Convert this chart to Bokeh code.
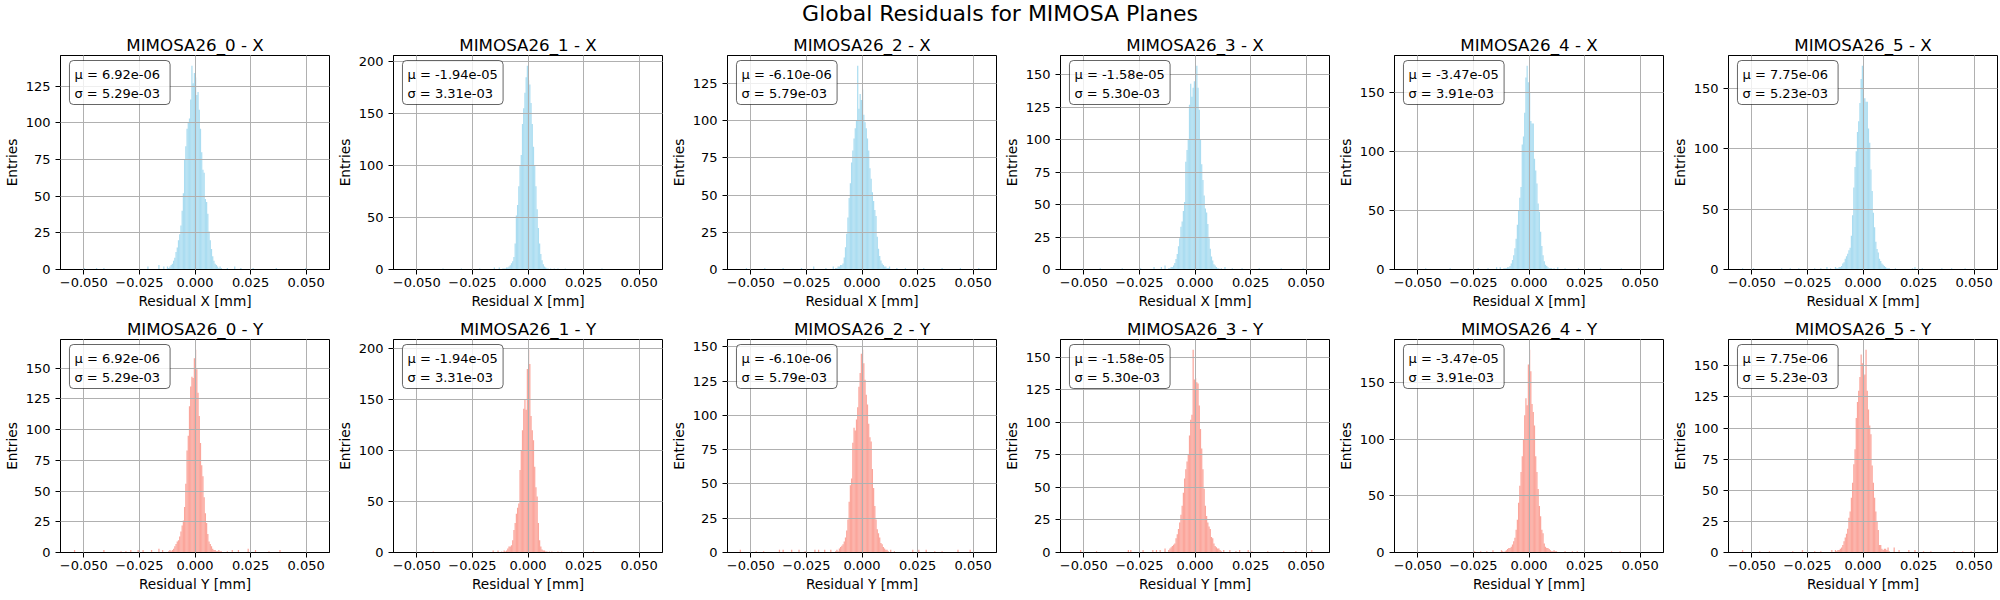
import numpy as np
from bokeh.plotting import figure
from bokeh.layouts import gridplot, column
from bokeh.models import (Div, Range1d, FixedTicker, SingleIntervalTicker,
                          CustomJSTickFormatter, Label, BoxAnnotation, ColumnDataSource)
from bokeh.embed import file_html
from bokeh.resources import INLINE

# ---------------- data ----------------
planes = ["MIMOSA26_0", "MIMOSA26_1", "MIMOSA26_2", "MIMOSA26_3", "MIMOSA26_4", "MIMOSA26_5"]
mu_vals = [6.92e-06, -1.94e-05, -6.10e-06, -1.58e-05, -3.47e-05, 7.75e-06]
sigma_vals = [5.29e-03, 3.31e-03, 5.79e-03, 5.30e-03, 3.91e-03, 5.23e-03]

HIST_LO, HIST_HI, N_BINS = -0.055, 0.055, 200
CORE_START = 78  # first bin index of the core count lists
x_ticks = [-0.05, -0.025, 0.0, 0.025, 0.05]

# core counts, bins 78..121 (X residuals)
core_x0 = [1,2,3,4,6,8,12,15,20,24, 30,40,52,75,84,96,100,103,116,139, 127,134,131,119,121,109,96,80,68,66, 48,46,38,26,20,14,9,6,4,3, 2,1,2,1]
core_x1 = [0,1,1,1,2,2,3,4,6,8, 12,25,52,62,80,100,110,140,155,170, 185,196,182,178,160,140,118,100,80,58, 40,25,15,9,5,3,2,1,1,0, 1,0,0,1]
core_x2 = [1,1,2,2,3,3,4,8,15,24, 35,48,58,72,80,88,95,100,137,108, 118,114,121,104,99,95,88,80,68,61, 52,46,40,36,22,14,9,6,4,3, 2,2,1,1]
core_x3 = [1,1,2,2,3,5,8,12,18,24, 33,37,45,52,83,92,100,127,143,133, 140,145,140,157,140,123,100,81,69,57, 47,44,35,24,16,10,7,4,3,2, 1,1,0,1]
core_x4 = [0,1,1,1,2,2,3,5,8,12, 18,26,38,50,61,70,106,113,133,163, 173,159,150,126,124,124,94,84,73,56, 49,32,20,12,7,4,3,2,1,1, 1,0,1,0]
core_x5 = [1,1,2,2,3,5,6,9,11,13, 16,18,28,45,68,85,98,114,123,138, 158,169,142,142,139,139,117,105,83,65, 47,35,23,17,14,9,7,5,4,3, 2,1,1,1]
# core counts, bins 78..121 (Y residuals)
core_y0 = [1,2,1,2,3,5,7,9,10,13, 17,22,26,37,56,83,95,119,135,143, 142,158,165,149,130,111,89,71,62,45, 32,24,15,9,7,5,3,2,2,1, 1,2,1,1]
core_y1 = [1,0,2,1,2,4,6,6,7,12, 22,29,38,44,48,81,100,120,141,150, 140,180,199,185,134,120,110,84,64,55, 29,12,6,3,2,2,1,1,0,1, 0,1,0,0]
core_y2 = [1,2,1,3,4,5,6,8,11,16, 24,37,49,54,80,91,89,97,106,121, 131,145,148,138,126,115,108,94,84,81, 61,47,34,24,17,14,11,7,6,4, 3,2,2,1]
core_y3 = [2,3,4,5,6,7,11,14,18,23, 29,36,46,57,64,70,75,90,102,106, 156,133,134,131,130,113,95,80,64,49, 36,28,23,20,18,12,11,7,5,4, 3,3,2,1]
core_y4 = [1,0,1,2,3,4,4,5,7,10, 13,20,29,44,59,71,85,100,121,136, 130,166,179,160,131,124,112,85,71,56, 41,32,20,17,8,5,4,4,3,2, 1,1,2,1]
core_y5 = [1,2,2,3,4,6,9,12,15,19, 28,33,44,56,71,83,108,121,130,141, 159,152,142,143,163,130,115,102,95,70, 56,44,33,25,18,6,6,3,2,3, 3,2,4,1]

# sparse tails: bin indices and counts
tail_bins_x0 = [9,19,25,61,70,74,77,126,132,137,147,166,190]
tail_cnts_x0 = [1,1,1,2,3,2,2,1,2,1,1,1,1]
tail_bins_x1 = [30,45,60,72,76,124,130,145,160]
tail_cnts_x1 = [1,1,1,2,2,1,1,1,1]
tail_bins_x2 = [5,20,35,50,60,70,76,122,128,135,150,165,180,195]
tail_cnts_x2 = [1,1,1,1,2,1,2,2,1,1,1,1,1,1]
tail_bins_x3 = [8,22,40,55,66,72,75,124,130,138,152,170,188]
tail_cnts_x3 = [1,1,1,1,2,2,3,2,1,1,1,1,1]
tail_bins_x4 = [15,35,58,66,73,76,123,129,140,158,175]
tail_cnts_x4 = [1,1,1,1,2,2,2,1,1,1,1]
tail_bins_x5 = [1,10,33,40,47,60,65,70,73,77,126,140,142,148,164,172,183,191]
tail_cnts_x5 = [1,1,1,1,1,1,1,2,1,2,1,1,2,1,1,1,1,1]
tail_bins_y0 = [1,25,39,43,47,53,57,64,70,73,126,130,135,143,149,160,169]
tail_cnts_y0 = [2,2,1,1,2,2,2,2,3,2,1,2,2,3,2,1,2]
tail_bins_y1 = [22,71,75,124,127,153]
tail_cnts_y1 = [1,2,2,1,1,1]
tail_bins_y2 = [0,13,19,32,35,42,48,53,61,64,69,74,123,126,141,146,152,159,165,178,188]
tail_cnts_y2 = [2,1,1,2,2,2,2,1,2,2,2,2,2,1,2,2,2,1,1,2,2]
tail_bins_y3 = [6,19,45,47,57,65,68,71,75,123,128,133,136,143,146,159,172,182,195]
tail_cnts_y3 = [2,1,2,2,2,2,2,2,3,2,2,1,2,2,1,1,1,1,2]
tail_bins_y4 = [55,60,65,70,77,122,129,135,139,167,174]
tail_cnts_y4 = [1,1,1,2,2,1,1,1,1,1,1]
tail_bins_y5 = [1,15,23,42,50,60,65,74,77,125,129,137,142,149,155,174,181,188]
tail_cnts_y5 = [2,1,1,1,2,1,1,2,2,4,2,2,2,1,1,1,1,1]

cores_x = [core_x0, core_x1, core_x2, core_x3, core_x4, core_x5]
cores_y = [core_y0, core_y1, core_y2, core_y3, core_y4, core_y5]
tails_x = [(tail_bins_x0, tail_cnts_x0), (tail_bins_x1, tail_cnts_x1), (tail_bins_x2, tail_cnts_x2),
           (tail_bins_x3, tail_cnts_x3), (tail_bins_x4, tail_cnts_x4), (tail_bins_x5, tail_cnts_x5)]
tails_y = [(tail_bins_y0, tail_cnts_y0), (tail_bins_y1, tail_cnts_y1), (tail_bins_y2, tail_cnts_y2),
           (tail_bins_y3, tail_cnts_y3), (tail_bins_y4, tail_cnts_y4), (tail_bins_y5, tail_cnts_y5)]

# ---------------- styling / layout ----------------
FONT = "DejaVu Sans"
COLOR_X = "#87CEEB"   # skyblue
COLOR_Y = "#FA8072"   # salmon
edges = np.linspace(HIST_LO, HIST_HI, N_BINS + 1)
pad = 0.05 * (HIST_HI - HIST_LO)
BORDER_L = 59
FRAME_W = 270
FIG_W = [333, 334, 333, 334, 334, 332]
ROW_H = [287, 283]
ROW_TOP = [27, 24]
ROW_BOT = [46, 46]


def make_panel(col, row, core, tail):
    axis_name = "X" if row == 0 else "Y"
    counts = np.zeros(N_BINS)
    counts[CORE_START:CORE_START + len(core)] = core
    counts[np.array(tail[0])] = tail[1]
    mask = counts > 0
    src = ColumnDataSource(dict(left=edges[:-1][mask], right=edges[1:][mask], top=counts[mask]))
    ymax = counts.max() * 1.05
    interval = 25 if int(np.ceil(ymax / 25)) + 1 <= 8 else 50
    x0, x1 = HIST_LO - pad, HIST_HI + pad

    p = figure(width=FIG_W[col], height=ROW_H[row], output_backend="svg", toolbar_location=None,
               x_range=Range1d(x0, x1), y_range=Range1d(0, ymax),
               min_border_left=BORDER_L, min_border_right=FIG_W[col] - BORDER_L - FRAME_W,
               min_border_top=ROW_TOP[row], min_border_bottom=ROW_BOT[row],
               title=f"{planes[col]} - {axis_name}")
    p.quad(left="left", right="right", top="top", bottom=0, source=src,
           fill_color=COLOR_X if row == 0 else COLOR_Y, fill_alpha=0.7, line_color=None)

    p.title.align = "center"
    p.title.text_font = FONT
    p.title.text_font_size = "16.7px"
    p.title.text_font_style = "normal"
    p.title.text_color = "black"
    p.title.standoff = 2

    p.outline_line_color = "black"
    p.outline_line_width = 1
    p.outline_line_alpha = 1
    p.background_fill_color = "white"
    p.border_fill_color = "white"

    for g in (p.xgrid, p.ygrid):
        g.grid_line_color = "#b0b0b0"
        g.grid_line_width = 1
        g.level = "guide"

    p.xaxis.ticker = FixedTicker(ticks=x_ticks)
    p.xaxis.formatter = CustomJSTickFormatter(code="return tick.toFixed(3).replace('-', '\\u2212');")
    p.yaxis.ticker = SingleIntervalTicker(interval=interval, num_minor_ticks=0)
    p.xaxis.axis_label = f"Residual {axis_name} [mm]"
    p.yaxis.axis_label = "Entries"
    for ax in (p.xaxis[0], p.yaxis[0]):
        ax.axis_label_text_font = FONT
        ax.axis_label_text_font_size = "13.7px"
        ax.axis_label_text_font_style = "normal"
        ax.axis_label_text_color = "black"
        ax.axis_label_standoff = 3
        ax.major_label_text_font = FONT
        ax.major_label_text_font_size = "13px"
        ax.major_label_text_color = "black"
        ax.major_label_standoff = 3
        ax.major_tick_in = 0
        ax.major_tick_out = 5
        ax.minor_tick_in = 0
        ax.minor_tick_out = 0
        ax.axis_line_color = "black"
        ax.major_tick_line_color = "black"
    p.yaxis[0].major_label_standoff = 5

    # stats box (rounded, semi-transparent) in the upper-left corner of the frame
    frame_h = ROW_H[row] - ROW_TOP[row] - ROW_BOT[row]
    dx = (x1 - x0) / FRAME_W
    dy = ymax / frame_h
    box = BoxAnnotation(left=x0 + 9 * dx, right=x0 + 110 * dx,
                        top=ymax - 5 * dy, bottom=ymax - 49 * dy,
                        fill_color="white", fill_alpha=0.8,
                        line_color="black", line_alpha=0.6, line_width=1,
                        border_radius=4)
    p.add_layout(box)
    lines = [f"\u03bc = {mu_vals[col]:.2e}", f"\u03c3 = {sigma_vals[col]:.2e}"]
    for k, t in enumerate(lines):
        p.add_layout(Label(x=x0, y=ymax, x_units="data", y_units="data",
                           x_offset=14, y_offset=-(18.5 + 19 * k), text=t,
                           text_align="left", text_baseline="middle",
                           text_font=FONT, text_font_size="13px", text_color="black"))
    return p


top = [make_panel(i, 0, cores_x[i], tails_x[i]) for i in range(6)]
bot = [make_panel(i, 1, cores_y[i], tails_y[i]) for i in range(6)]
grid = gridplot([top, bot], toolbar_location=None)

title = Div(text='<div style="width:2000px;text-align:center;'
                 'font-family:\'DejaVu Sans\';font-size:22px;line-height:28px;color:black;">'
                 'Global Residuals for MIMOSA Planes</div>',
            width=2000, height=28, margin=0)

layout = column(title, grid, spacing=0)
open("out.html", "w").write(file_html(layout, INLINE))
